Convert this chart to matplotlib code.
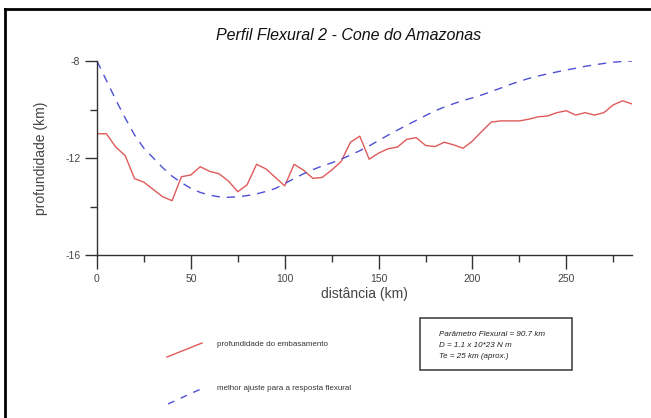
import numpy as np
import matplotlib
matplotlib.use('Agg')
import matplotlib.pyplot as plt
from matplotlib.lines import Line2D

plt.rcParams['font.family'] = ['Liberation Sans', 'DejaVu Sans']
plt.rcParams['axes.unicode_minus'] = False

# distance (km), sampled every 5 km
dist = np.arange(0, 290, 5)

# profundidade do embasamento (km)
embasamento = [-11.0, -11.0, -11.55, -11.9, -12.85, -13.0, -13.3, -13.6, -13.76, -12.77,
               -12.7, -12.36, -12.55, -12.65, -12.95, -13.39, -13.1, -12.26, -12.45, -12.8,
               -13.15, -12.26, -12.5, -12.84, -12.8, -12.5, -12.15, -11.35, -11.1, -12.05,
               -11.8, -11.62, -11.55, -11.23, -11.16, -11.48, -11.53, -11.35, -11.46, -11.6,
               -11.3, -10.9, -10.52, -10.47, -10.47, -10.47, -10.4, -10.3, -10.27, -10.13,
               -10.05, -10.23, -10.13, -10.23, -10.13, -9.81, -9.64, -9.77]

# melhor ajuste para a resposta flexural (km)
ajuste = [-8.0, -8.8, -9.6, -10.35, -11.05, -11.6, -12.0, -12.4, -12.75, -13.02,
          -13.25, -13.42, -13.53, -13.6, -13.62, -13.6, -13.55, -13.48, -13.38, -13.26,
          -13.05, -12.85, -12.65, -12.48, -12.33, -12.2, -12.05, -11.88, -11.7, -11.5,
          -11.28, -11.06, -10.85, -10.65, -10.45, -10.25, -10.06, -9.9, -9.76, -9.63,
          -9.52, -9.4, -9.26, -9.12, -8.97, -8.84, -8.72, -8.62, -8.53, -8.45,
          -8.37, -8.3, -8.22, -8.16, -8.1, -8.05, -8.02, -8.0]

red = '#e05a5a'
blue = '#4f4fd6'
grey = '#333333'

W, H = 651, 418
fig = plt.figure(figsize=(W / 100, H / 100), dpi=100)
ax = fig.add_axes([97 / W, 1 - 255 / H, (632 - 97) / W, (255 - 61) / H])

ax.plot(dist, embasamento, color=red, lw=1.0)
ax.plot(dist, ajuste, color=blue, lw=1.0, dashes=(6, 5))

ax.set_xlim(0, 285)
ax.set_ylim(-16, -8)
ax.set_xticks([0, 50, 100, 150, 200, 250])
ax.set_xticks([25, 75, 125, 175, 225, 275], minor=True)
ax.set_yticks([-16, -12, -8])
ax.set_yticks([-14, -10], minor=True)

for s in ['top', 'right']:
    ax.spines[s].set_visible(False)
for s in ['left', 'bottom']:
    ax.spines[s].set_color(grey)
    ax.spines[s].set_linewidth(1.0)

ax.tick_params(which='major', direction='out', length=9, width=1, color=grey,
               labelsize=7.5, labelcolor='#444444', pad=3)
ax.tick_params(axis='x', which='major', length=10, pad=4)
ax.tick_params(which='minor', direction='out', length=5, width=1, color=grey)

ax.set_xlabel('distância (km)', fontsize=10, color='#444444', labelpad=2)
ax.set_ylabel('profundidade (km)', fontsize=10, color='#444444', labelpad=12)

fig.text(349 / W, 1 - 36 / H, 'Perfil Flexural 2 - Cone do Amazonas', ha='center',
         va='center', fontsize=11.5, style='italic', color='#111111')

# legend with diagonal samples
fig.add_artist(Line2D([167 / W, 202 / W], [1 - 357 / H, 1 - 343 / H], color=red, lw=1.0))
fig.add_artist(Line2D([168 / W, 203 / W], [1 - 404 / H, 1 - 388 / H], color=blue, lw=1.0,
                      dashes=(5, 5)))
fig.text(217 / W, 1 - 344 / H, 'profundidade do embasamento', fontsize=5.8,
         va='center', color='#333333')
fig.text(217 / W, 1 - 388 / H, 'melhor ajuste para a resposta flexural', fontsize=5.8,
         va='center', color='#333333')

# parameters box
box = plt.Rectangle((420 / W, 1 - 370 / H), (572 - 420) / W, (370 - 318) / H,
                    transform=fig.transFigure, fill=False, ec='#444444', lw=1.2)
fig.add_artist(box)
info = ['Parâmetro Flexural = 90.7 km', 'D = 1.1 x 10*23 N m', 'Te = 25 km (aprox.)']
for i, t in enumerate(info):
    fig.text(439 / W, 1 - (335 + 10.5 * i) / H, t, fontsize=5.8, style='italic',
             va='center', color='#222222')

# outer frame (top and left edges)
fig.add_artist(Line2D([4.5 / W, 1], [1 - 9 / H, 1 - 9 / H], color='black', lw=2))
fig.add_artist(Line2D([4.5 / W, 4.5 / W], [0, 1 - 9 / H], color='black', lw=2))

fig.savefig('out.png', dpi=100)
